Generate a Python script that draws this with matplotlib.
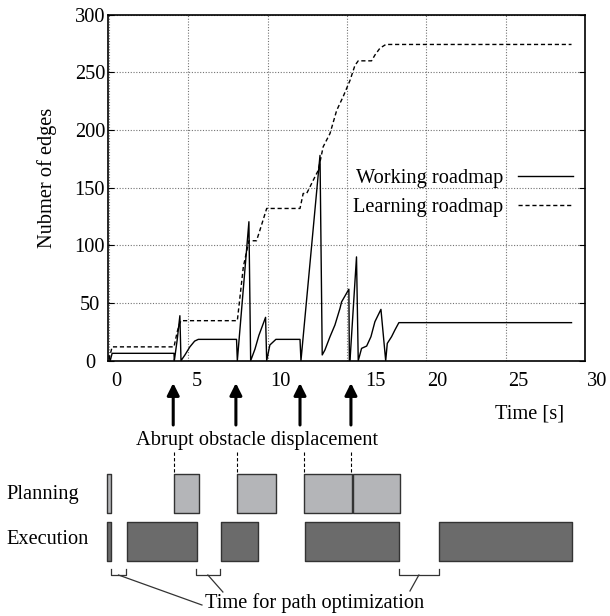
import matplotlib.pyplot as plt

plt.rcParams['font.family'] = ['Liberation Serif', 'DejaVu Serif']
plt.rcParams['font.size'] = 14.7

# Working roadmap (solid line), time [s] / number of edges
work_t = [0.0, 0.08, 0.2, 4.1, 4.12, 4.3, 4.47, 4.54, 4.79, 5.1, 5.4, 5.63, 8.04,
          8.09, 8.82, 8.93, 9.2, 9.45, 9.87, 9.94, 10.14, 10.52, 12.04, 12.1,
          13.3, 13.44, 13.61, 13.93, 14.24, 14.56, 14.66, 15.12, 15.15, 15.19,
          15.6, 15.71, 15.92, 16.24, 16.51, 16.76, 17.14, 17.44, 17.54, 17.81,
          18.02, 18.27, 29.15]
work_n = [4, 0, 6.4, 6.4, 0, 18, 39, 0, 5, 12, 17, 18.5, 18.5,
          0, 120.5, 0, 10, 22, 37.6, 0, 13.6, 18.5, 18.5, 0,
          178, 5, 9.3, 20.8, 30.9, 45.4, 51, 62, 0, 0,
          90, 0, 10.7, 12.7, 20.8, 33.8, 44.5, 0, 15, 20.8,
          26.6, 33, 33]

# Learning roadmap (dashed line)
learn_t = [0.0, 0.2, 4.1, 4.3, 4.45, 4.54, 8.09, 8.47, 8.82, 9.3, 9.51, 9.94,
           12.04, 12.24, 12.46, 12.67, 12.98, 13.19, 13.5, 13.93, 14.35, 14.76,
           15.19, 15.5, 15.71, 16.55, 16.76, 17.08, 17.45, 29.15]
learn_n = [1, 12, 12, 25, 32, 34.7, 34.7, 81.5, 104, 104, 113, 132,
           132, 145, 145, 150.8, 159.4, 165, 185.5, 197, 217, 229,
           243, 256, 260, 260, 265, 271, 274.2, 274.2]

# timeline below the graph: (start, end) in seconds
planning = [(-0.1, 0.13), (4.1, 5.67), (8.07, 10.52), (12.29, 15.31), (15.37, 18.34)]
execution = [(-0.13, 0.13), (1.13, 5.55), (7.06, 9.39), (12.35, 18.27), (20.79, 29.17)]
displacement_t = [4.05, 8.0, 12.04, 15.25]
displacement_mark = [4.1, 8.07, 12.29, 15.25]
optim_gaps = [(0.13, 1.07), (5.48, 6.99), (18.27, 20.79)]
optim_leader_end = [5.86, 7.18, 18.97]
optim_leader_y = [605, 592, 591]

xtick_labels = ['0', '5', '10', '15', '20', '25', '30']
xtick_label_pos = [0.44, 5.55, 10.78, 16.82, 20.67, 25.77, 30.75]

W, H = 610, 616
fig = plt.figure(figsize=(W / 100, H / 100), dpi=100)

# main graph
ax = fig.add_axes([108 / W, 1 - 360.7 / H, 477 / W, (360.7 - 14.7) / H])
ax.plot(work_t, work_n, color='black', lw=1.0, label='Working roadmap')
ax.plot(learn_t, learn_n, color='black', lw=1.0, dashes=(3, 2), label='Learning roadmap')
ax.set_xlim(-0.06, 30)
ax.set_ylim(0, 300)
ax.set_xticks(range(0, 31, 5))
ax.set_yticks(range(0, 301, 50))
ax.tick_params(axis='x', length=0, labelbottom=False)
ax.tick_params(axis='y', direction='in', length=4, right=True, pad=13)
for lbl in ax.get_yticklabels():
    lbl.set_horizontalalignment('center')
ax.grid(True, linestyle=(0, (1, 1.5)), color='0.45', lw=0.8)
for s in ax.spines.values():
    s.set_linewidth(1.2)
ax.legend(loc='upper right', bbox_to_anchor=(573 / W, 1 - 169 / H),
          bbox_transform=fig.transFigure, frameon=False, markerfirst=False,
          borderpad=0, borderaxespad=0, handlelength=2.7, handletextpad=0.7,
          labelspacing=0.45)
fig.text(47 / W, 1 - 178 / H, 'Nubmer of edges', rotation=90, ha='center', va='center')

# timeline panel, y measured in figure pixels from the top
ax2 = fig.add_axes([108 / W, 0, 477 / W, (H - 372) / H])
ax2.set_xlim(-0.06, 30)
ax2.set_ylim(H, 372)
ax2.axis('off')

for lab, x in zip(xtick_labels, xtick_label_pos):
    ax2.text(x, 382, lab, ha='center', va='center', clip_on=False)
fig.text(530 / W, 1 - 414 / H, 'Time [s]', ha='center', va='center')

for x in displacement_t:
    ax2.annotate('', xy=(x, 383), xytext=(x, 425),
                 arrowprops=dict(arrowstyle='-|>', lw=2.2, color='black',
                                 mutation_scale=18, shrinkA=0, shrinkB=0))
ax2.text(9.33, 441, 'Abrupt obstacle displacement', ha='center', va='center')
for x in displacement_mark:
    ax2.plot([x, x], [452, 474], color='black', lw=0.8, dashes=(3, 2))

ax2.broken_barh([(s, e - s) for s, e in planning], (474, 39),
                facecolor='#b4b5b8', edgecolor='#333333', lw=1.0, clip_on=False)
ax2.broken_barh([(s, e - s) for s, e in execution], (522, 39),
                facecolor='#6b6b6b', edgecolor='#333333', lw=1.0, clip_on=False)
fig.text(6 / W, 1 - 495 / H, 'Planning', ha='left', va='center')
fig.text(6 / W, 1 - 539 / H, 'Execution', ha='left', va='center')

for (a, b), xe, ye in zip(optim_gaps, optim_leader_end, optim_leader_y):
    ax2.plot([a, a, b, b], [569, 575, 575, 569], color='#333333', lw=0.9)
    ax2.plot([(a + b) / 2, xe], [575, ye], color='#333333', lw=0.9)
ax2.text(6.05, 603, 'Time for path optimization', ha='left', va='center')

fig.savefig('out.png', dpi=100)
